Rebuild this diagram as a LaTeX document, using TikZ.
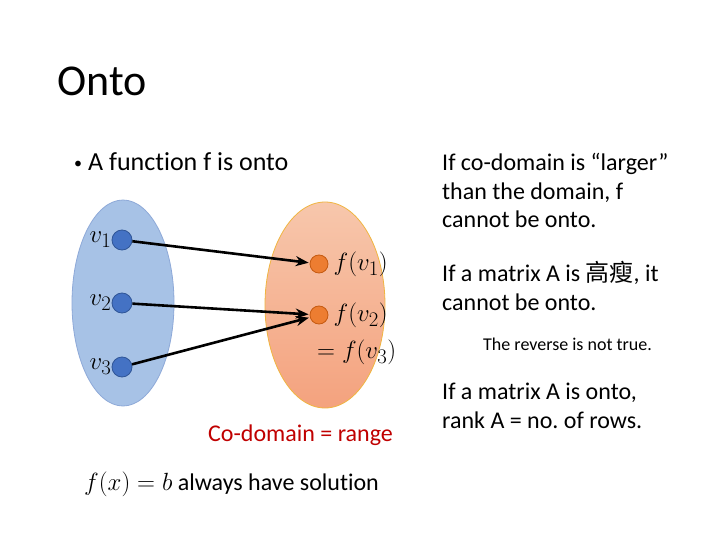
\documentclass[tikz,border=0pt]{standalone}
\usepackage{fontspec}
\setmainfont[Ligatures=NoCommon]{Carlito}
\newfontfamily\cjk{Noto Sans CJK TC}
\usetikzlibrary{arrows.meta,shapes.geometric}
\frenchspacing
\definecolor{DomFill}{HTML}{A7C2E6}
\definecolor{DomEdge}{HTML}{8EA9D8}
\definecolor{DotBlue}{HTML}{4472C4}
\definecolor{DotBlueEdge}{HTML}{2F5597}
\definecolor{CodTop}{HTML}{F7C7AC}
\definecolor{CodBot}{HTML}{F4A27E}
\definecolor{CodEdge}{HTML}{F0B540}
\definecolor{DotOrange}{HTML}{ED7D31}
\definecolor{DotOrangeEdge}{HTML}{C55A11}
\definecolor{RangeRed}{HTML}{C00000}
\tikzset{
  bluedot/.style={circle,fill=DotBlue,draw=DotBlueEdge,line width=0.8pt,minimum size=20pt,inner sep=0pt},
  orangedot/.style={circle,fill=DotOrange,draw=DotOrangeEdge,line width=0.8pt,minimum size=18pt,inner sep=0pt},
  maparrow/.style={-{Stealth[length=13pt,width=10pt]},line width=2.6pt,black,shorten >=1pt},
  bodytext/.style={anchor=base west,inner sep=0pt,font=\fontsize{24}{28.5}\selectfont,align=left},
  mathlabel/.style={font=\fontsize{30}{32}\selectfont}
}
\begin{document}
\begin{tikzpicture}[x=1pt,y=-1pt]
\path[use as bounding box,fill=white] (0,0) rectangle (720,540);
\node[anchor=base west,inner sep=0pt,font=\fontsize{44}{50}\selectfont] (title) at (57,96) {Onto};
\node[bodytext,font=\fontsize{26}{30}\selectfont] (bullet) at (74,171) {\makebox[14pt][l]{\raisebox{2pt}{\fontsize{16}{16}\selectfont•}}A function f is onto};

% the two sets
\node[ellipse,minimum width=102pt,minimum height=206pt,fill=DomFill,draw=DomEdge,line width=0.8pt] (domain) at (123,303) {};
\node[ellipse,minimum width=120pt,minimum height=206pt,top color=CodTop,bottom color=CodBot,draw=CodEdge,line width=0.8pt] (codomain) at (325,305) {};

\foreach \i/\y in {1/240,2/303,3/367}{
  \node[bluedot] (v\i) at (122,\y) {};
  \node[anchor=east,inner sep=0pt,mathlabel] (lv\i) at (v\i.west) {$v_{\i}$};
}
\foreach \i/\y in {1/264,2/315}{
  \node[orangedot] (w\i) at (319,\y) {};
  \node[anchor=west,inner sep=5pt,mathlabel] (lw\i) at (w\i.east) {$f(v_{\i})$};
}
\node[anchor=west,inner sep=0pt,mathlabel] (lw3) at (317,352) {$=f(v_3)$};

\draw[maparrow] (v1) -- (w1);
\draw[maparrow] (v2) -- (w2);
\draw[maparrow] (v3) -- (w2);

\node[anchor=base west,inner sep=0pt,font=\fontsize{24}{28}\selectfont,text=RangeRed] (range) at (208,441) {Co-domain = range};
\node[anchor=base west,inner sep=0pt,font=\fontsize{24}{28}\selectfont] (solution) at (84,490) {{\fontsize{27}{28}\selectfont$f(x)=b$} always have solution};

% right column
\node[bodytext] (larger) at (442,228) {If co-domain is “larger”\\than the domain, f\\cannot be onto.};
\node[bodytext] (tall) at (442,310) {If a matrix A is {\cjk 高瘦}, it\\cannot be onto.};
\node[bodytext,font=\fontsize{18}{20}\selectfont] (reverse) at (483,350) {The reverse is not true.};
\node[bodytext] (rank) at (442,428) {If a matrix A is onto,\\rank A = no. of rows.};
\end{tikzpicture}
\end{document}
